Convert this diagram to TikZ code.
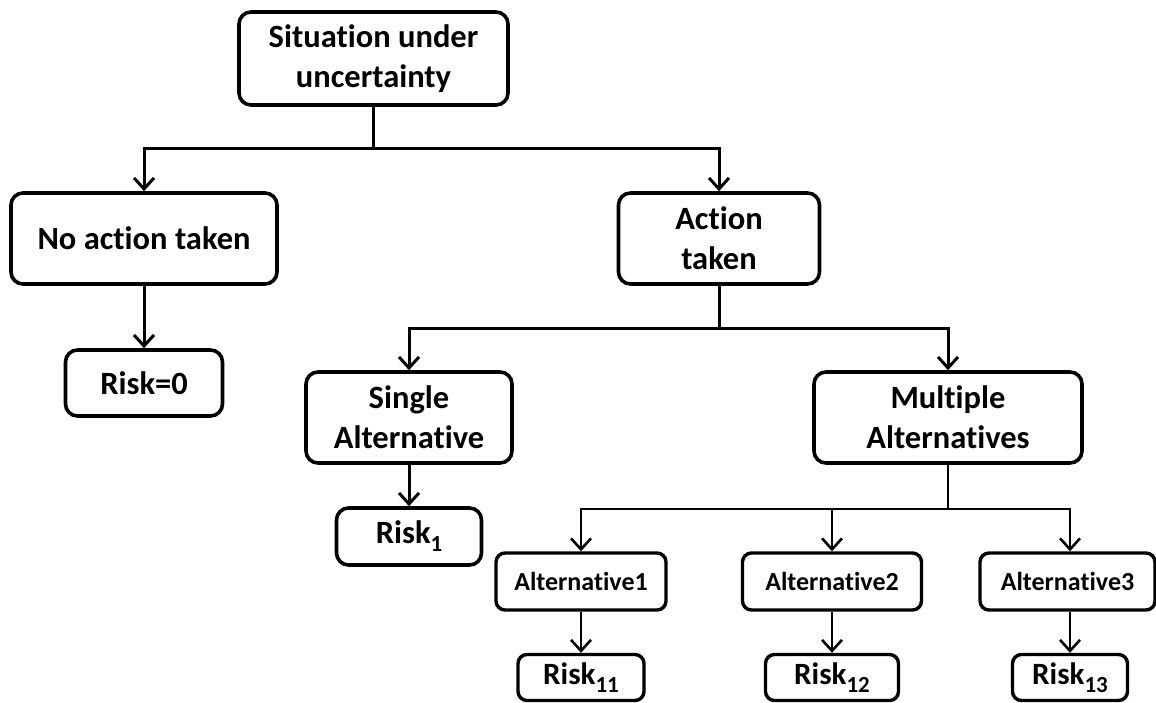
\documentclass[tikz,border=0pt]{standalone}
\usepackage{fontspec}
\setmainfont{Carlito}[Ligatures=NoCommon]
\usetikzlibrary{arrows.meta}
\newcommand\sbs[1]{\raisebox{-8pt}{\fontsize{23}{23}\selectfont #1}}
\begin{document}
\begin{tikzpicture}[x=1pt,y=-1pt,
  box/.style={draw, line width=3.6pt, rounded corners=12pt, align=center, inner sep=0pt,
    font=\fontsize{32.5}{40}\selectfont\bfseries},
  smallbox/.style={draw, line width=3.4pt, rounded corners=9pt, align=center, inner sep=0pt,
    font=\fontsize{26}{30}\selectfont\bfseries},
  riskbox/.style={draw, line width=3.4pt, rounded corners=9pt, align=center, inner sep=0pt,
    font=\fontsize{31}{36}\selectfont\bfseries},
  conn/.style={line width=3pt},
  arr/.style={line width=3pt, -{Straight Barb[length=11pt,width=20pt]}},
  thinconn/.style={line width=2.6pt},
  thinarr/.style={line width=2.6pt, -{Straight Barb[length=11pt,width=20pt]}}
]
\useasboundingbox (0,0) rectangle (1156,703);

\node[box, minimum width=269pt, minimum height=93pt] (top) at (373.5,58.5) {Situation under\\uncertainty};
\node[box, minimum width=266pt, minimum height=91pt] (noact) at (144,238.5) {No action taken};
\node[box, minimum width=201pt, minimum height=91pt] (act) at (719,238.5) {Action\\taken};
\node[box, minimum width=157pt, minimum height=66pt] (risk0) at (144,383) {Risk=0};
\node[box, minimum width=206pt, minimum height=91pt] (single) at (409,417.5) {Single\\Alternative};
\node[box, minimum width=268pt, minimum height=91pt] (multi) at (948,417.5) {Multiple\\Alternatives};
\node[box, minimum width=145pt, minimum height=57pt] (risk1) at (409,536.5) {Risk\sbs{1}};

\node[smallbox, minimum width=170pt, minimum height=57pt] (alt1) at (581,581.5) {Alternative1};
\node[smallbox, minimum width=179pt, minimum height=57pt] (alt2) at (832,581.5) {Alternative2};
\node[smallbox, minimum width=175pt, minimum height=57pt] (alt3) at (1067.5,581.5) {Alternative3};

\node[riskbox, minimum width=126pt, minimum height=46pt] (r11) at (581,677.5) {Risk\sbs{11}};
\node[riskbox, minimum width=133pt, minimum height=46pt] (r12) at (832,677.5) {Risk\sbs{12}};
\node[riskbox, minimum width=115pt, minimum height=46pt] (r13) at (1070,677.5) {Risk\sbs{13}};

% level 1
\coordinate (j1) at (373.5,149);
\draw[conn] (top.south) -- (j1);
\draw[arr] (j1) -| (noact.north);
\draw[arr] (j1) -| (act.north);
\draw[arr] (noact.south) -- (risk0.north);

% level 2
\coordinate (j2) at (719,328);
\draw[conn] (act.south) -- (j2);
\draw[arr] (j2) -| (single.north);
\draw[arr] (j2) -| (multi.north);
\draw[arr] (single.south) -- (risk1.north);

% level 3
\coordinate (j3) at (948,509);
\draw[thinconn] (multi.south) -- (j3);
\draw[thinarr] (j3) -| (alt1.north);
\draw[thinarr] (j3) -| (alt2.north);
\draw[thinarr] (j3) -| ([xshift=2.5pt]alt3.north);
\draw[thinarr] (alt1.south) -- (r11.north);
\draw[thinarr] (alt2.south) -- (r12.north);
\draw[thinarr] ([xshift=2.5pt]alt3.south) -- (r13.north);
\end{tikzpicture}
\end{document}
